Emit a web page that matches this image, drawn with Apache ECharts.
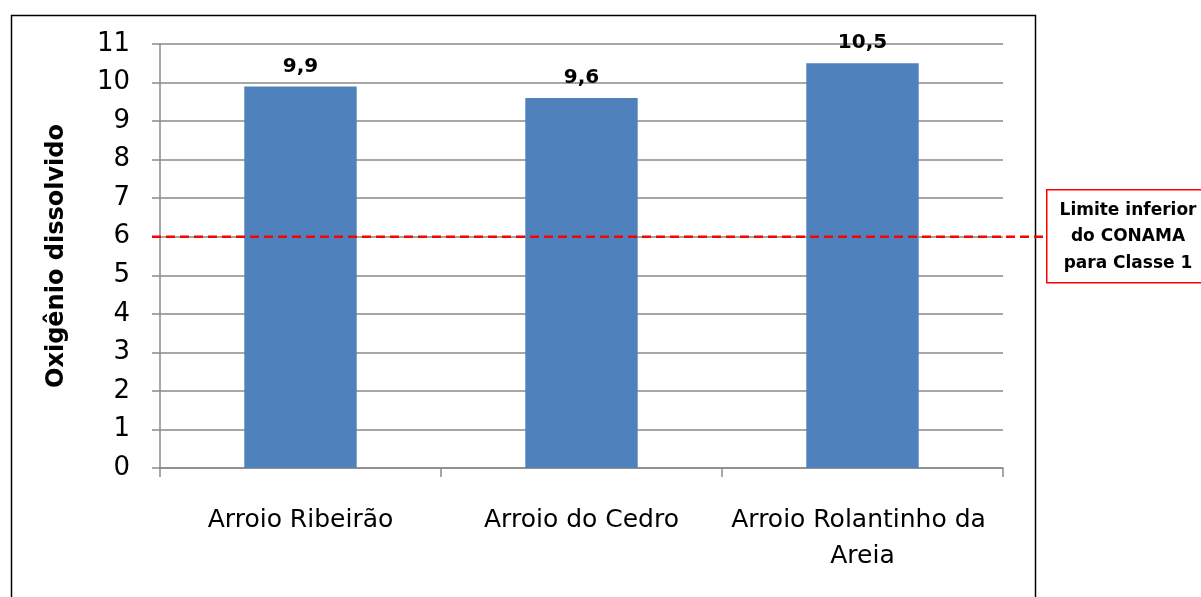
<!DOCTYPE html>
<html><head><meta charset="utf-8">
<script src="https://cdn.jsdelivr.net/npm/echarts@6/dist/echarts.min.js"></script>
<style>html,body{margin:0;padding:0;background:#fff}#c{width:1201px;height:597px}</style>
</head><body><div id="c"></div>
<script>
const categories = ['Arroio Ribeirão', 'Arroio do Cedro', 'Arroio Rolantinho da Areia'];
const values = [9.9, 9.6, 10.5];
const yTicks = [0, 11, 1];
const limitValue = 6;
const limitLabel = 'Limite inferior\ndo CONAMA\npara Classe 1';
const yName = 'Oxigênio dissolvido';

const FONT = '"DejaVu Sans", "Noto Sans", sans-serif';
const chart = echarts.init(document.getElementById('c'), null, {renderer: 'canvas'});
chart.setOption({
  animation: false,
  backgroundColor: '#fff',
  grid: [
    {left: 160, right: 198, top: 44, bottom: 129},
    {left: 152, right: 155, top: 44, bottom: 129}
  ],
  xAxis: [
    {type: 'category', gridIndex: 0, data: categories, boundaryGap: true,
     axisLine: {lineStyle: {color: '#8a8a8a', width: 1.5}},
     axisTick: {show: true, length: 9, lineStyle: {color: '#8a8a8a', width: 1.5}},
     axisLabel: {color: '#000', fontFamily: FONT, fontSize: 25, margin: 34, lineHeight: 36,
       width: 290, overflow: 'break', interval: 0}},
    {type: 'value', gridIndex: 1, min: 0, max: 1, show: false}
  ],
  yAxis: [
    {type: 'value', gridIndex: 0, min: yTicks[0], max: yTicks[1], interval: yTicks[2],
     name: yName, nameLocation: 'middle', nameGap: 91, nameRotate: 90,
     nameTextStyle: {color: '#000', fontFamily: FONT, fontSize: 24, fontWeight: 'bold'},
     axisLine: {show: true, lineStyle: {color: '#8a8a8a', width: 1.5}},
     axisTick: {show: true, length: 8, lineStyle: {color: '#8a8a8a', width: 1.5}},
     axisLabel: {color: '#000', fontFamily: FONT, fontSize: 26, margin: 30},
     splitLine: {show: true, lineStyle: {color: '#8a8a8a', width: 1.5}}},
    {type: 'value', gridIndex: 1, min: yTicks[0], max: yTicks[1], show: false}
  ],
  series: [
    {type: 'bar', xAxisIndex: 0, yAxisIndex: 0, data: values, barWidth: '40%',
     itemStyle: {color: '#4F81BD'},
     label: {show: true, position: 'top', distance: 10, color: '#000', fontFamily: FONT,
       fontSize: 20, fontWeight: 'bold', formatter: p => String(p.value).replace('.', ',')}},
    {type: 'line', xAxisIndex: 1, yAxisIndex: 1, data: [[0, limitValue], [1, limitValue]],
     symbol: 'none', lineStyle: {color: '#FF0000', width: 2.5, type: [9, 5]}, z: 5}
  ],
  graphic: [
    {type: 'rect', left: 9, top: 13, z: -1, silent: true,
     shape: {width: 1024, height: 600}, style: {fill: 'none', stroke: '#000', lineWidth: 1.5}},
    {type: 'rect', left: 1046, top: 189, z: 10,
     shape: {width: 160, height: 93}, style: {fill: '#fff', stroke: '#FF0000', lineWidth: 1.5}},
    {type: 'text', x: 1128, y: 197, z: 11,
     style: {text: limitLabel, fill: '#000', font: 'bold 17px ' + FONT, align: 'center',
       verticalAlign: 'top', lineHeight: 26.5}}
  ]
});
</script></body></html>
